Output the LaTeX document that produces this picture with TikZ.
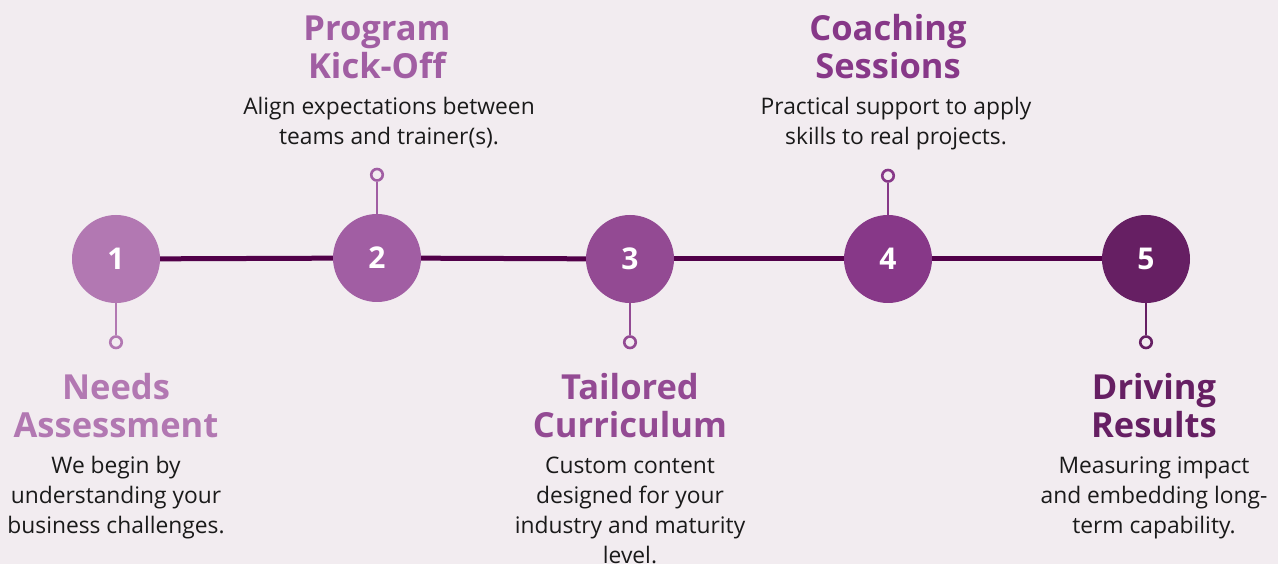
\documentclass[tikz,border=0pt]{standalone}
\usepackage{fontspec}
\setmainfont{Open Sans}
\usepackage{tikz}
\usetikzlibrary{positioning}
\definecolor{mybg}{RGB}{242,236,240}
\definecolor{myline}{RGB}{82,0,73}
\definecolor{stepone}{RGB}{178,120,178}
\definecolor{steptwo}{RGB}{161,94,163}
\definecolor{stepthree}{RGB}{147,74,147}
\definecolor{stepfour}{RGB}{135,56,136}
\definecolor{stepfive}{RGB}{102,31,99}
\definecolor{mytext}{RGB}{26,26,26}
\tikzstyle{stepcircle}=[circle,minimum size=88pt,inner sep=0pt,text=white,font=\fontsize{30}{30}\selectfont\bfseries]
\tikzstyle{ring}=[circle,draw,line width=2.6pt,fill=mybg,minimum size=11.5pt,inner sep=0pt]
\tikzstyle{stem}=[line width=2.6pt]
\tikzstyle{heading}=[align=center,inner sep=0pt,font=\fontsize{34.5}{38}\selectfont\bfseries]
\tikzstyle{desc}=[align=center,inner sep=0pt,text=mytext,font=\fontsize{22.8}{30}\selectfont]

\begin{document}
\begin{tikzpicture}[x=1pt,y=-1pt]
\fill[mybg] (0,0) rectangle (1278,564);
\useasboundingbox (0,0) rectangle (1278,564);

% steps on the line
\node [stepcircle,fill=stepone] (s1) at (116,259) {1};
\node [stepcircle,fill=steptwo] (s2) at (377,258) {2};
\node [stepcircle,fill=stepthree] (s3) at (630,259) {3};
\node [stepcircle,fill=stepfour] (s4) at (888,259) {4};
\node [stepcircle,fill=stepfive] (s5) at (1146,259) {5};

\draw [myline,line width=5pt] (s1) -- (s2);
\draw [myline,line width=5pt] (s2) -- (s3);
\draw [myline,line width=5pt] (s3) -- (s4);
\draw [myline,line width=5pt] (s4) -- (s5);

% pins
\node [ring,draw=stepone] [below=32pt of s1] (r1) {};
\node [ring,draw=steptwo] [above=32pt of s2] (r2) {};
\node [ring,draw=stepthree] [below=32pt of s3] (r3) {};
\node [ring,draw=stepfour] [above=32pt of s4] (r4) {};
\node [ring,draw=stepfive] [below=32pt of s5] (r5) {};
\draw [stem,stepone] (s1) -- (r1);
\draw [stem,steptwo] (s2) -- (r2);
\draw [stem,stepthree] (s3) -- (r3);
\draw [stem,stepfour] (s4) -- (r4);
\draw [stem,stepfive] (s5) -- (r5);

% labels
\node [heading,text=stepone] (h1) at (116,406) {Needs\\Assessment};
\node [desc] [below=18pt of h1] (d1) {We begin by\\understanding your\\business challenges.};

\node [heading,text=steptwo] (h2) at (377,47) {Program\\Kick-Off};
\node [desc] [below=18pt of h2.south,xshift=12pt] (d2) {Align expectations between\\teams and trainer(s).};

\node [heading,text=stepthree] (h3) at (630,406) {Tailored\\Curriculum};
\node [desc] [below=18pt of h3] (d3) {Custom content\\designed for your\\industry and maturity\\level.};

\node [heading,text=stepfour] (h4) at (888,47) {Coaching\\Sessions};
\node [desc] [below=18pt of h4.south,xshift=8pt] (d4) {Practical support to apply\\skills to real projects.};

\node [heading,text=stepfive] (h5) at (1154,406) {Driving\\Results};
\node [desc] [below=18pt of h5] (d5) {Measuring impact\\and embedding long-\\term capability.};
\end{tikzpicture}
\end{document}
